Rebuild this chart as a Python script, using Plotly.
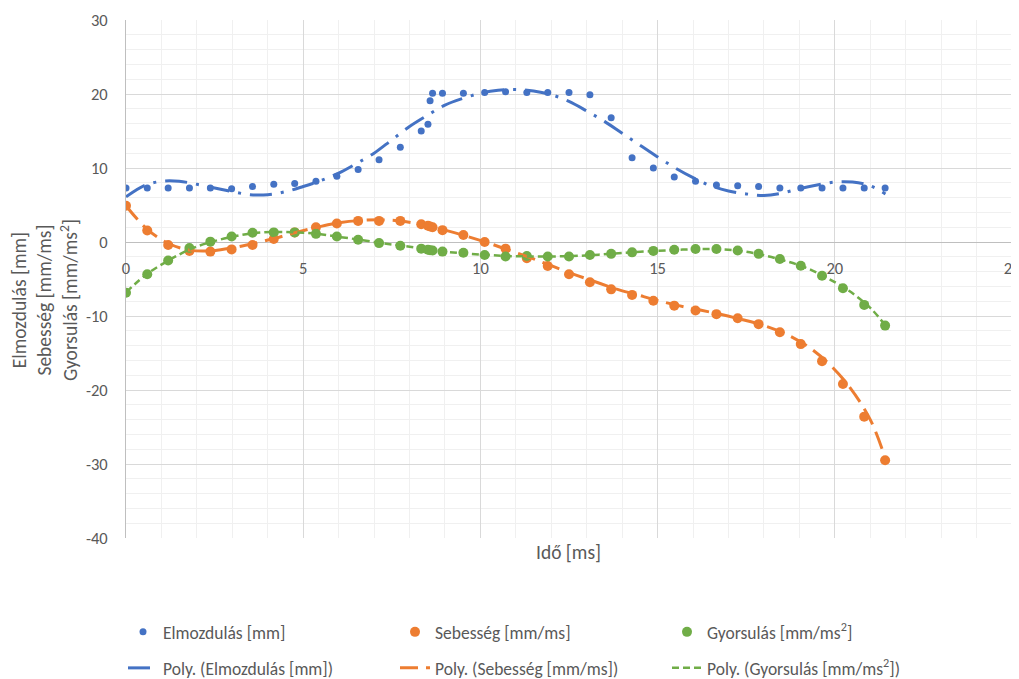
import plotly.graph_objects as go

# ---- data ----
t_ms = [0, 0.6, 1.19, 1.79, 2.38, 2.98, 3.57, 4.17, 4.76, 5.36, 5.95, 6.55, 7.14, 7.74,
        8.33, 8.52, 8.58, 8.65, 8.93, 9.52, 10.12, 10.71, 11.31, 11.9, 12.5, 13.09, 13.69,
        14.28, 14.88, 15.47, 16.07, 16.66, 17.26, 17.85, 18.45, 19.04, 19.64, 20.23, 20.83, 21.42]

elmozdulas = [7.3, 7.3, 7.3, 7.3, 7.3, 7.2, 7.5, 7.8, 7.9, 8.2, 8.9, 9.8, 11.1, 12.8,
              15.0, 15.9, 19.1, 20.1, 20.1, 20.1, 20.2, 20.3, 20.2, 20.2, 20.2, 19.9, 16.8,
              11.4, 10.0, 8.8, 8.2, 7.7, 7.6, 7.5, 7.3, 7.3, 7.3, 7.3, 7.3, 7.3]

sebesseg = [4.9, 1.55, -0.4, -1.2, -1.3, -1.0, -0.4, 0.4, 1.3, 2.0, 2.5, 2.85, 2.85, 2.85,
            2.4, 2.2, 2.1, 2.0, 1.6, 0.95, 0.0, -0.9, -2.2, -3.25, -4.35, -5.45, -6.4,
            -7.15, -7.95, -8.6, -9.25, -9.75, -10.3, -11.1, -12.2, -13.8, -16.1, -19.2, -23.6, -29.5]

gyorsulas = [-6.85, -4.35, -2.5, -0.8, 0.05, 0.75, 1.25, 1.3, 1.3, 1.1, 0.75, 0.3, -0.15, -0.5,
             -0.9, -1.05, -1.1, -1.15, -1.3, -1.45, -1.75, -1.95, -1.9, -1.95, -1.95, -1.75, -1.6,
             -1.4, -1.2, -1.05, -0.95, -0.95, -1.15, -1.6, -2.3, -3.2, -4.55, -6.25, -8.5, -11.3]

# trendline curves
trend_x_e = [0, 0.5, 1.0, 1.5, 2.0, 2.5, 3.0, 3.5, 4.0, 4.5, 5.0, 5.5, 6.0, 6.5, 7.0, 7.5, 8.0,
             8.5, 9.0, 9.5, 10.0, 10.5, 11.0, 11.5, 12.0, 12.5, 13.0, 13.5, 14.0, 14.5, 15.0,
             15.5, 16.0, 16.5, 17.0, 17.5, 18.0, 18.5, 19.0, 19.5, 20.0, 20.5, 21.0, 21.43]
trend_e = [6.1, 7.6, 8.2, 8.2, 7.8, 7.3, 6.8, 6.4, 6.4, 6.8, 7.5, 8.3, 9.3, 10.6, 12.0, 13.8, 15.6,
           17.1, 18.5, 19.4, 20.1, 20.5, 20.6, 20.4, 19.9, 19.0, 17.7, 16.3, 14.7, 13.1, 11.5,
           10.0, 8.7, 7.6, 6.9, 6.5, 6.3, 6.6, 7.2, 7.7, 8.1, 8.1, 7.6, 6.5]

trend_x_sg = [0, 0.6, 1.2, 1.8, 2.4, 3.0, 3.6, 4.2, 4.8, 5.4, 6.0, 6.6, 7.2, 7.8, 8.4, 9.0, 9.6,
              10.2, 10.8, 11.4, 12.0, 12.6, 13.2, 13.8, 14.4, 15.0, 15.6, 16.2, 16.8, 17.4, 18.0,
              18.6, 19.2, 19.8, 20.4, 21.0, 21.43]
trend_s = [4.9, 1.7, -0.2, -1.1, -1.2, -0.8, -0.2, 0.5, 1.3, 2.0, 2.6, 2.9, 3.0, 2.8, 2.3, 1.6, 0.8,
           -0.1, -1.1, -2.1, -3.2, -4.3, -5.3, -6.3, -7.1, -7.9, -8.6, -9.2, -9.8, -10.5, -11.3,
           -12.4, -14.0, -16.3, -19.5, -24.0, -29.3]
trend_g = [-6.8, -4.3, -2.5, -1.0, 0.0, 0.7, 1.2, 1.35, 1.3, 1.1, 0.7, 0.3, -0.15, -0.5, -0.9, -1.3,
           -1.55, -1.75, -1.9, -1.95, -1.95, -1.9, -1.75, -1.55, -1.35, -1.2, -1.05, -0.95, -1.0,
           -1.25, -1.8, -2.55, -3.5, -4.9, -6.6, -8.9, -11.3]

names = ["Elmozdulás [mm]", "Sebesség [mm/ms]", "Gyorsulás [mm/ms<sup>2</sup>]"]
x_ticks = [0, 5, 10, 15, 20, 25]
x_ticklabels = ["0", "5", "10", "15", "20", "25"]
y_ticks = [-40, -30, -20, -10, 0, 10, 20, 30]
y_ticklabels = ["-40", "-30", "-20", "-10", "0", "10", "20", "30"]

BLUE, ORANGE, GREEN = "#4472C4", "#ED7D31", "#70AD47"
FONT = "Carlito, Lato, sans-serif"
GRAY = "#595959"

fig = go.Figure()
fig.add_trace(go.Scatter(x=t_ms, y=elmozdulas, mode="markers", name=names[0],
                         marker=dict(color=BLUE, size=7), legend="legend"))
fig.add_trace(go.Scatter(x=t_ms, y=sebesseg, mode="markers", name=names[1],
                         marker=dict(color=ORANGE, size=10), legend="legend"))
fig.add_trace(go.Scatter(x=t_ms, y=gyorsulas, mode="markers", name=names[2],
                         marker=dict(color=GREEN, size=10), legend="legend"))

fig.add_trace(go.Scatter(x=trend_x_e, y=trend_e, mode="lines", line_shape="spline",
                         name="Poly. (" + names[0] + ")",
                         line=dict(color=BLUE, width=3, dash="22px,9px,3px,9px"), legend="legend2"))
fig.add_trace(go.Scatter(x=trend_x_sg, y=trend_s, mode="lines", line_shape="spline",
                         name="Poly. (" + names[1] + ")",
                         line=dict(color=ORANGE, width=3, dash="18px,8px"), legend="legend2"))
fig.add_trace(go.Scatter(x=trend_x_sg, y=trend_g, mode="lines", line_shape="spline",
                         name="Poly. (" + names[2] + ")",
                         line=dict(color=GREEN, width=2.5, dash="7px,4px"), legend="legend2"))

# page body adds an 8px offset; the figure is sized so that the plot lands where the reference has it
fig.update_layout(
    width=1011, height=671,
    margin=dict(l=118, r=7, t=12, b=141, autoexpand=False),
    paper_bgcolor="white", plot_bgcolor="white",
    font=dict(family=FONT, color=GRAY, size=17),
    xaxis=dict(range=[0, 25], tickvals=x_ticks, ticktext=x_ticklabels,
               showgrid=True, gridcolor="#d9d9d9", gridwidth=1,
               minor=dict(dtick=1, showgrid=True, gridcolor="#f0f0f0", gridwidth=1),
               anchor="free", position=40 / 70, zeroline=False, showline=False,
               ticks="outside", ticklen=11, tickcolor="rgba(0,0,0,0)", automargin=False,
               ticklabeloverflow="allow",
               tickfont=dict(size=16.5, color=GRAY)),
    yaxis=dict(range=[-40, 30], tickvals=y_ticks, ticktext=y_ticklabels,
               showgrid=True, gridcolor="#d9d9d9", gridwidth=1,
               minor=dict(dtick=2, showgrid=True, gridcolor="#f0f0f0", gridwidth=1),
               zeroline=True, zerolinecolor="#bfbfbf", zerolinewidth=1,
               showline=True, linecolor="#bfbfbf", linewidth=1, automargin=False,
               ticks="outside", ticklen=14, tickcolor="rgba(0,0,0,0)",
               tickfont=dict(size=16.5, color=GRAY)),
    legend=dict(orientation="h", x=-3 / 886, xanchor="left", y=-0.1467, yanchor="top",
                entrywidth=227, entrywidthmode="pixels", font=dict(size=17.5, color=GRAY),
                bgcolor="rgba(0,0,0,0)"),
    legend2=dict(orientation="h", x=-3 / 886, xanchor="left", y=-0.2162, yanchor="top",
                 entrywidth=227, entrywidthmode="pixels", font=dict(size=17.5, color=GRAY),
                 bgcolor="rgba(0,0,0,0)"),
    showlegend=True,
)

fig.add_annotation(text="Elmozdulás [mm]<br>Sebesség [mm/ms]<br>Gyorsulás [mm/ms<sup>2</sup>]",
                   xref="paper", yref="paper", x=(44 - 126) / 886, y=(538 - 300) / 518,
                   xanchor="center", yanchor="middle", textangle=-90, showarrow=False,
                   font=dict(size=19.5, color=GRAY, family=FONT))
fig.add_annotation(text="Idő [ms]", xref="paper", yref="paper",
                   x=(568 - 126) / 886, y=(538 - 552) / 518,
                   xanchor="center", yanchor="middle", showarrow=False,
                   font=dict(size=19.5, color=GRAY, family=FONT))

fig.write_html("out.html")
